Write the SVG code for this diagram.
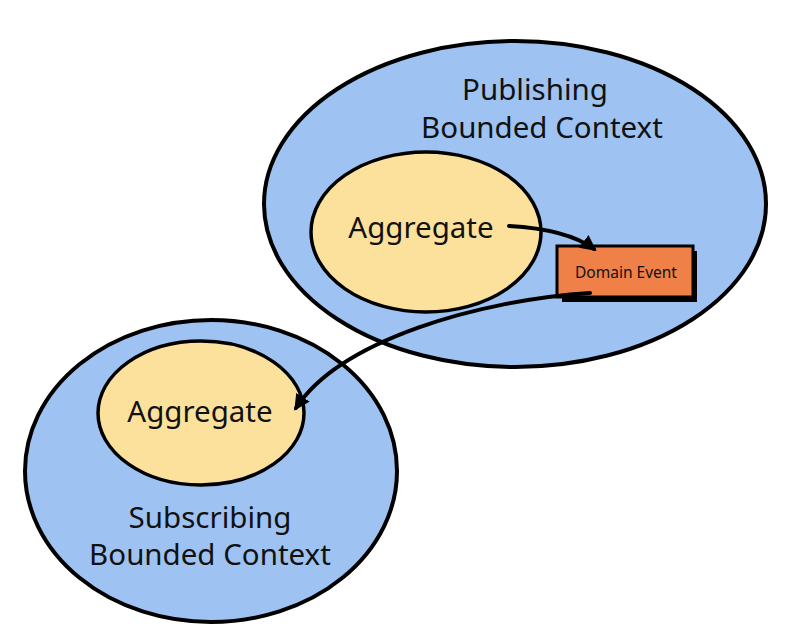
<svg xmlns="http://www.w3.org/2000/svg" width="800" height="637" viewBox="0 0 800 637">
<defs>
<style>
.ctx{fill:#9ec3f2;stroke:#000;stroke-width:4}
.agg{fill:#fbe19b;stroke:#000;stroke-width:3.5}
.t{font-family:"Noto Sans","Liberation Sans",sans-serif;fill:#111;text-anchor:middle}
.big{font-size:29.5px}
.conn{fill:none;stroke:#000;stroke-width:4;stroke-linecap:round}
</style>
<marker id="ah" viewBox="0 0 10 10" refX="8" refY="5" markerWidth="4" markerHeight="4" orient="auto" markerUnits="strokeWidth">
<path d="M0,0 L10,5 L0,10 z" fill="#000"/>
</marker>
</defs>
<rect width="800" height="637" fill="#fff"/>
<g id="publishing">
<ellipse class="ctx" cx="515" cy="204" rx="251" ry="163"/>
<text class="t big" x="535" y="100">Publishing</text>
<text class="t big" x="542" y="138">Bounded Context</text>
</g>
<g id="subscribing">
<ellipse class="ctx" cx="211" cy="471" rx="186" ry="151"/>
<text class="t big" x="210" y="528">Subscribing</text>
<text class="t big" x="210" y="565">Bounded Context</text>
</g>
<g id="aggregate-pub">
<ellipse class="agg" cx="426" cy="232" rx="115" ry="80"/>
<text class="t big" x="421" y="238">Aggregate</text>
</g>
<g id="aggregate-sub">
<ellipse class="agg" cx="201" cy="413" rx="103" ry="72"/>
<text class="t big" x="200" y="422">Aggregate</text>
</g>
<g id="domain-event">
<rect x="562" y="251" width="135" height="51" fill="#000"/>
<rect x="557" y="246" width="136" height="51" fill="#ef8048" stroke="#000" stroke-width="3"/>
<text class="t" x="626" y="278" font-size="15.5">Domain Event</text>
</g>
<g id="connectors">
<path class="conn" d="M509,226 C545,228 575,235 594,249" marker-end="url(#ah)"/>
<path class="conn" d="M590,293 C480,300 340,340 296,408" marker-end="url(#ah)"/>
</g>
</svg>
